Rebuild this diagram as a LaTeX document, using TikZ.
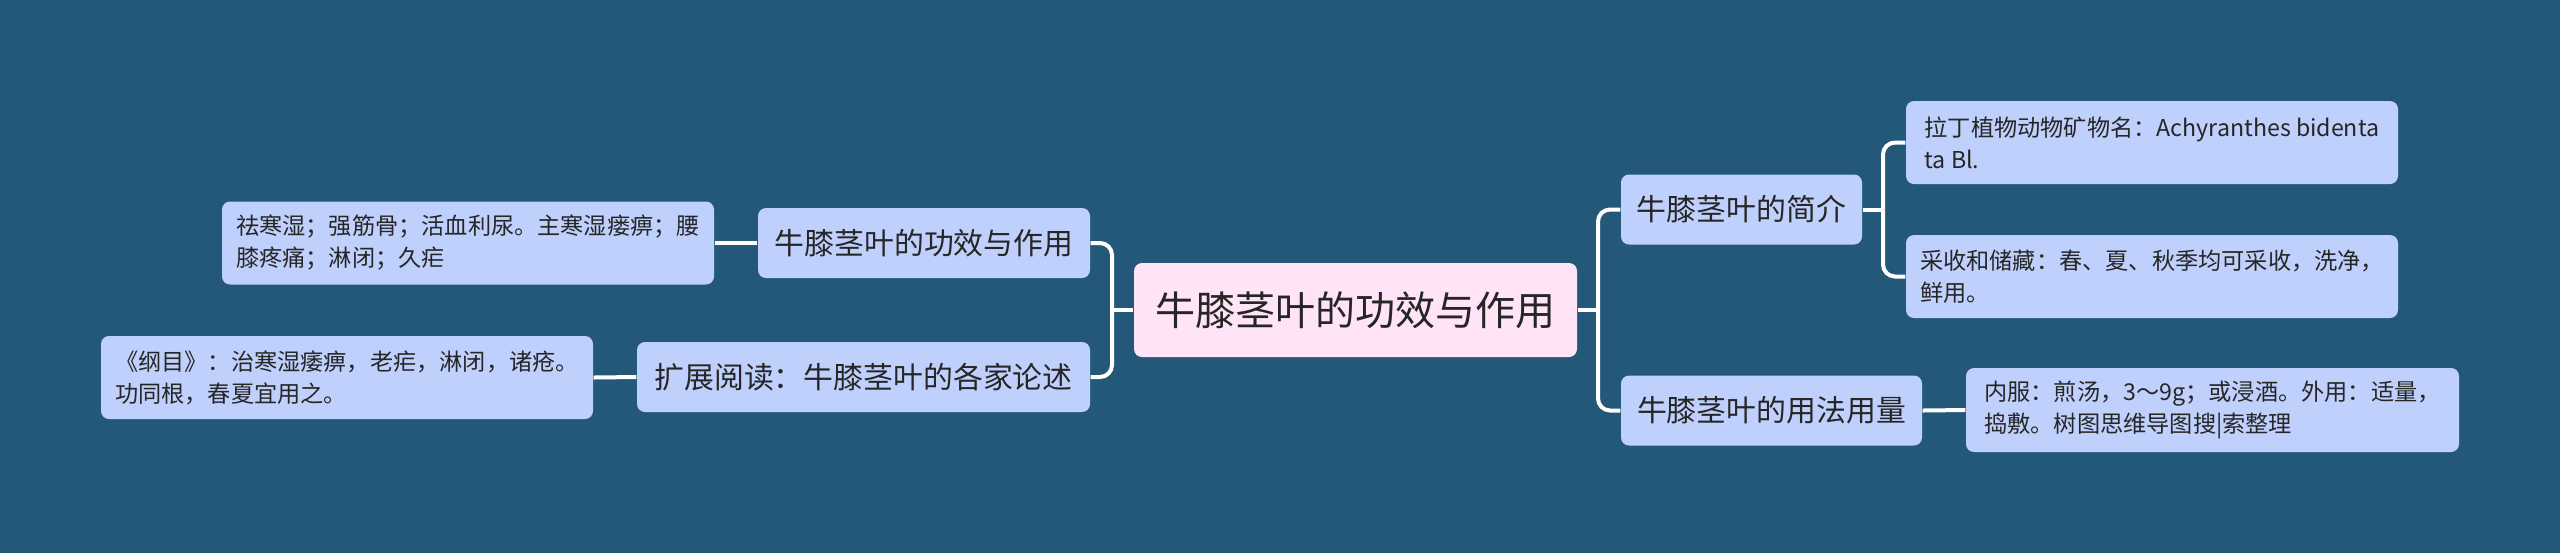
\documentclass[tikz,border=0pt]{standalone}
\usepackage{fontspec}
\setmainfont{Noto Sans CJK SC}
\usepackage{xcolor}
\definecolor{bgblue}{RGB}{36,88,121}
\definecolor{boxblue}{RGB}{191,208,252}
\definecolor{rootpink}{RGB}{255,228,247}
\definecolor{inkgrey}{RGB}{38,38,38}
\tikzset{
  topic/.style={rectangle,rounded corners=0.08cm,fill=boxblue,text=inkgrey,inner sep=0pt,align=center},
  root/.style={topic,fill=rootpink,font=\fontsize{11.4}{14}\selectfont},
  branch/.style={topic,minimum height=0.70cm,font=\fontsize{8.5}{10}\selectfont},
  leaf/.style={topic,align=left,minimum width=4.92cm,minimum height=0.83cm,font=\fontsize{6.6}{9.1}\selectfont},
  link/.style={draw=white,line width=0.04cm},
}
\begin{document}
\begin{tikzpicture}
    \fill[bgblue] (0,0) rectangle (25.6,-5.53);
    \node[root,minimum width=4.43cm,minimum height=0.94cm] (root) at (13.555,-3.10) {牛膝茎叶的功效与作用};
    % left side
    \node[branch,minimum width=3.32cm] (effect) at (9.24,-2.43) {牛膝茎叶的功效与作用};
    \node[branch,minimum width=4.53cm] (reading) at (8.635,-3.77) {扩展阅读：牛膝茎叶的各家论述};
    \node[leaf] (effecttxt) at (4.68,-2.43) {祛寒湿；强筋骨；活血利尿。主寒湿瘘痹；腰\\膝疼痛；淋闭；久疟};
    \node[leaf] (readingtxt) at (3.47,-3.775) {《纲目》：治寒湿痿痹，老疟，淋闭，诸疮。\\功同根，春夏宜用之。};
    % right side
    \node[branch,minimum width=2.41cm] (intro) at (17.415,-2.095) {牛膝茎叶的简介};
    \node[branch,minimum width=3.01cm] (usage) at (17.715,-4.105) {牛膝茎叶的用法用量};
    \node[leaf] (latin) at (21.52,-1.425) {拉丁植物动物矿物名：Achyranthes bidenta\\ta Bl.};
    \node[leaf] (harvest) at (21.52,-2.765) {采收和储藏：春、夏、秋季均可采收，洗净，\\鲜用。};
    \node[leaf,minimum width=4.93cm,minimum height=0.84cm] (dose) at (22.125,-4.10) {内服：煎汤，3～9g；或浸酒。外用：适量，\\捣敷。树图思维导图搜|索整理};
    % connectors
    \coordinate (jleft) at (11.12,-3.10);
    \coordinate (jright) at (15.98,-3.10);
    \coordinate (jintro) at (18.83,-2.095);
    \draw[link] (root.west) -- (jleft);
    \draw[link,rounded corners=0.12cm] (jleft) |- (effect.east);
    \draw[link,rounded corners=0.12cm] (jleft) |- (reading.east);
    \draw[link] (effect.west) -- (effecttxt.east);
    \draw[link] (reading.west) -- (readingtxt.east);
    \draw[link] (root.east) -- (jright);
    \draw[link,rounded corners=0.12cm] (jright) |- (intro.west);
    \draw[link,rounded corners=0.12cm] (jright) |- (usage.west);
    \draw[link] (intro.east) -- (jintro);
    \draw[link,rounded corners=0.12cm] (jintro) |- (latin.west);
    \draw[link,rounded corners=0.12cm] (jintro) |- (harvest.west);
    \draw[link] (usage.east) -- (dose.west);
  \end{tikzpicture}
\end{document}
